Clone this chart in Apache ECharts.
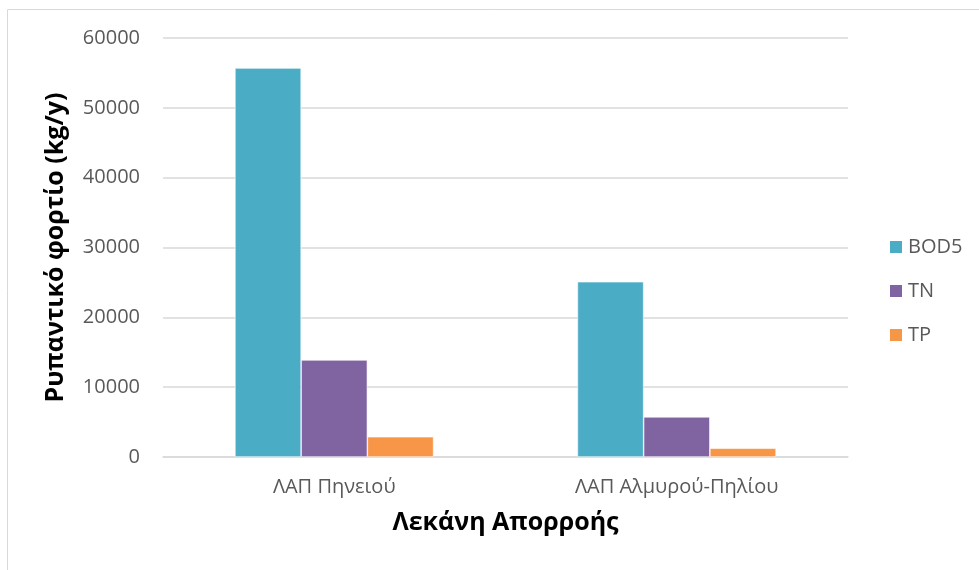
<!DOCTYPE html>
<html>
<head>
<meta charset="utf-8">
<script src="https://cdn.jsdelivr.net/npm/echarts@6/dist/echarts.min.js"></script>
<style>
  html, body { margin: 0; padding: 0; background: #fff; }
  #chart { width: 979px; height: 570px; }
</style>
</head>
<body>
<div id="chart"></div>
<script>
// Annual pollutant loads per river basin district
const categories = ['ΛΑΠ Πηνειού', 'ΛΑΠ Αλμυρού-Πηλίου'];
const bod5 = [55700, 25100];
const tn = [13900, 5750];
const tp = [2900, 1250];
const yTicks = [0, 10000, 20000, 30000, 40000, 50000, 60000];

const seriesNames = ['BOD5', 'TN', 'TP'];
const seriesData = [bod5, tn, tp];
const colors = ['#4bacc6', '#8064a2', '#f79646'];

const chart = echarts.init(document.getElementById('chart'), null, { renderer: 'canvas' });
const font = '"Open Sans", "Noto Sans", sans-serif';

chart.setOption({
  animation: false,
  color: colors,
  graphic: [{
    type: 'rect',
    shape: { x: 7.5, y: 9.5, width: 1000, height: 600 },
    style: { fill: 'none', stroke: '#d9d9d9', lineWidth: 1 },
    silent: true
  }],
  grid: { left: 163, right: 131, top: 38, bottom: 113, containLabel: false },
  legend: {
    orient: 'vertical',
    left: 883,
    top: 232,
    itemWidth: 14,
    itemHeight: 14,
    itemGap: 24,
    icon: 'rect',
    textStyle: { fontFamily: font, fontSize: 20, color: '#595959' },
    data: seriesNames
  },
  xAxis: {
    type: 'category',
    data: categories,
    axisLine: { lineStyle: { color: '#d9d9d9', width: 1.5 } },
    axisTick: { show: false },
    axisLabel: { fontFamily: font, fontSize: 20, color: '#595959', margin: 20 },
    name: 'Λεκάνη Απορροής',
    nameLocation: 'middle',
    nameGap: 53,
    nameTextStyle: { fontFamily: font, fontSize: 25, fontWeight: 'bold', color: '#000' }
  },
  yAxis: {
    type: 'value',
    min: yTicks[0],
    max: yTicks[yTicks.length - 1],
    interval: yTicks[1] - yTicks[0],
    axisLine: { show: false },
    axisTick: { show: false },
    splitLine: { lineStyle: { color: '#d9d9d9', width: 1.5 } },
    axisLabel: {
      fontFamily: font, fontSize: 20, color: '#595959', margin: 23,
      formatter: (v) => String(v)
    },
    name: 'Ρυπαντικό φορτίο (kg/y)',
    nameLocation: 'middle',
    nameRotate: 90,
    nameGap: 95,
    nameTextStyle: { fontFamily: font, fontSize: 25, fontWeight: 'bold', color: '#000' }
  },
  series: seriesNames.map((name, i) => ({
    name: name,
    type: 'bar',
    data: seriesData[i],
    barGap: '0%',
    barCategoryGap: '42%',
    itemStyle: { borderColor: '#ffffff', borderWidth: 0.6 }
  }))
});
</script>
</body>
</html>
